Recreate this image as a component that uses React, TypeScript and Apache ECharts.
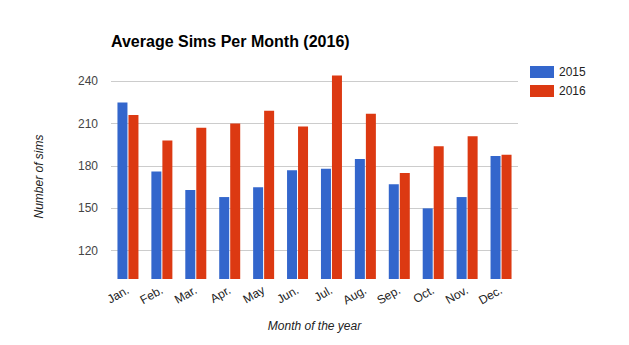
import React, { useEffect, useRef } from "react";
import * as echarts from "echarts";

const months = ["Jan.", "Feb.", "Mar.", "Apr.", "May", "Jun.", "Jul.", "Aug.", "Sep.", "Oct.", "Nov.", "Dec."];
const sims2015 = [225, 176, 163, 158, 165, 177, 178, 185, 167, 150, 158, 187];
const sims2016 = [216, 198, 207, 210, 219, 208, 244, 217, 175, 194, 201, 188];
const yTicks = [120, 150, 180, 210, 240];

export default function App() {
  const ref = useRef<HTMLDivElement>(null);
  useEffect(() => {
    document.body.style.margin = "0";
    const chart = echarts.init(ref.current!, null, { renderer: "svg" });
    const font = "'Liberation Sans', Arial, sans-serif";
    chart.setOption({
      animation: false,
      textStyle: { fontFamily: font },
      title: {
        text: "Average Sims Per Month (2016)",
        left: 106,
        top: 28,
        textStyle: { fontFamily: font, fontSize: 16, fontWeight: "bold", color: "#000" },
      },
      legend: {
        orient: "vertical",
        left: 525,
        top: 61,
        itemWidth: 24,
        itemHeight: 12,
        itemGap: 7,
        icon: "rect",
        textStyle: { fontFamily: font, fontSize: 12, color: "#222" },
        data: ["2015", "2016"],
      },
      grid: { left: 111, right: 111, top: 60, bottom: 66, containLabel: false },
      xAxis: {
        type: "category",
        data: months,
        axisLine: { show: false },
        axisTick: { show: false },
        axisLabel: { rotate: 30, margin: 10, fontSize: 12, color: "#222", fontFamily: font },
        name: "Month of the year",
        nameLocation: "middle",
        nameGap: 41,
        nameTextStyle: { fontStyle: "italic", fontSize: 12, color: "#222", fontFamily: font },
      },
      yAxis: {
        type: "value",
        min: 100,
        max: 255,
        axisLine: { show: false },
        axisTick: { show: false, customValues: yTicks },
        axisLabel: { customValues: yTicks, fontSize: 12, color: "#444", margin: 13, fontFamily: font },
        splitLine: { show: true, lineStyle: { color: "#cccccc", width: 1 } },
        name: "Number of sims",
        nameLocation: "middle",
        nameGap: 66,
        nameTextStyle: { fontStyle: "italic", fontSize: 12, color: "#222", fontFamily: font, padding: [0, 14, 0, 0] },
      },
      series: [
        { name: "2015", type: "bar", data: sims2015, barWidth: 10, barGap: "10%", itemStyle: { color: "#3366cc" } },
        { name: "2016", type: "bar", data: sims2016, barWidth: 10, barGap: "10%", itemStyle: { color: "#dc3912" } },
      ],
    });
    return () => chart.dispose();
  }, []);
  return <div ref={ref} style={{ width: 629, height: 345 }} />;
}
